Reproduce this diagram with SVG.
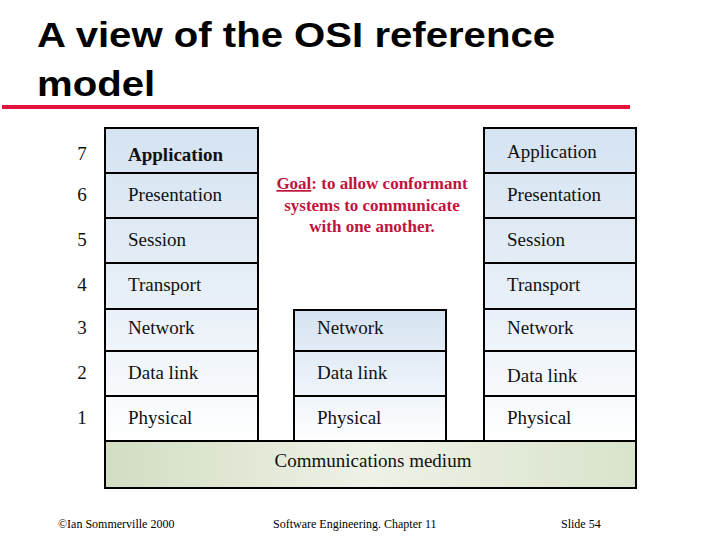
<svg xmlns="http://www.w3.org/2000/svg" width="720" height="540" viewBox="0 0 720 540">
<defs>
<linearGradient id="blueL" x1="0" y1="128" x2="0" y2="441" gradientUnits="userSpaceOnUse">
<stop offset="0" stop-color="#d5e3f1"/>
<stop offset="0.6" stop-color="#eaf1f8"/>
<stop offset="1" stop-color="#ffffff"/>
</linearGradient>
<linearGradient id="blueM" x1="0" y1="310" x2="0" y2="441" gradientUnits="userSpaceOnUse">
<stop offset="0" stop-color="#d5e3f1"/>
<stop offset="0.6" stop-color="#edf3f9"/>
<stop offset="1" stop-color="#ffffff"/>
</linearGradient>
<linearGradient id="green" x1="0" y1="0" x2="1" y2="0">
<stop offset="0" stop-color="#d2ddc2"/>
<stop offset="0.5" stop-color="#eef2e7"/>
<stop offset="1" stop-color="#d9e3cc"/>
</linearGradient>
<style>
.title{font-family:"Liberation Sans",Arial,sans-serif;font-weight:bold;font-size:36px;fill:#000}
.lbl{font-family:"Liberation Serif","Times New Roman",serif;font-size:19px;fill:#111}
.num{font-family:"Liberation Serif","Times New Roman",serif;font-size:19px;fill:#111;text-anchor:middle}
.box{stroke:#000;stroke-width:2}
.sep{stroke:#000;stroke-width:2}
.goal{font-family:"Liberation Serif","Times New Roman",serif;font-size:17px;font-weight:bold;fill:#c0143c;text-anchor:middle}
.foot{font-family:"Liberation Serif","Times New Roman",serif;font-size:12px;fill:#000}
</style>
</defs>
<rect width="720" height="540" fill="#fff"/>
<g id="title">
<g transform="translate(37,0) scale(1.115,1)">
<text class="title" x="0" y="47">A view of the OSI reference</text>
<text class="title" x="0" y="96">model</text>
</g>
<rect x="2" y="105" width="628" height="4" fill="#e4133b"/>
</g>
<g id="layer-numbers">
<text class="num" x="82" y="160">7</text>
<text class="num" x="82" y="201">6</text>
<text class="num" x="82" y="246">5</text>
<text class="num" x="82" y="291">4</text>
<text class="num" x="82" y="334">3</text>
<text class="num" x="82" y="379">2</text>
<text class="num" x="82" y="424">1</text>
</g>
<g id="left-stack">
<rect class="box" x="105" y="128" width="153" height="313" fill="url(#blueL)"/>
<line class="sep" x1="105" y1="173" x2="258" y2="173"/>
<line class="sep" x1="105" y1="218" x2="258" y2="218"/>
<line class="sep" x1="105" y1="263" x2="258" y2="263"/>
<line class="sep" x1="105" y1="309" x2="258" y2="309"/>
<line class="sep" x1="105" y1="351" x2="258" y2="351"/>
<line class="sep" x1="105" y1="396" x2="258" y2="396"/>
<text class="lbl" x="128" y="161" font-weight="bold" font-size="18">Application</text>
<text class="lbl" x="128" y="201">Presentation</text>
<text class="lbl" x="128" y="246">Session</text>
<text class="lbl" x="128" y="291">Transport</text>
<text class="lbl" x="128" y="334">Network</text>
<text class="lbl" x="128" y="379">Data link</text>
<text class="lbl" x="128" y="424">Physical</text>
</g>
<g id="middle-stack">
<rect class="box" x="294" y="310" width="152" height="131" fill="url(#blueM)"/>
<line class="sep" x1="294" y1="351" x2="446" y2="351"/>
<line class="sep" x1="294" y1="396" x2="446" y2="396"/>
<text class="lbl" x="317" y="334">Network</text>
<text class="lbl" x="317" y="379">Data link</text>
<text class="lbl" x="317" y="424">Physical</text>
</g>
<g id="right-stack">
<rect class="box" x="484" y="128" width="152" height="313" fill="url(#blueL)"/>
<line class="sep" x1="484" y1="173" x2="636" y2="173"/>
<line class="sep" x1="484" y1="218" x2="636" y2="218"/>
<line class="sep" x1="484" y1="263" x2="636" y2="263"/>
<line class="sep" x1="484" y1="309" x2="636" y2="309"/>
<line class="sep" x1="484" y1="351" x2="636" y2="351"/>
<line class="sep" x1="484" y1="396" x2="636" y2="396"/>
<text class="lbl" x="507" y="158">Application</text>
<text class="lbl" x="507" y="201">Presentation</text>
<text class="lbl" x="507" y="246">Session</text>
<text class="lbl" x="507" y="291">Transport</text>
<text class="lbl" x="507" y="334">Network</text>
<text class="lbl" x="507" y="382">Data link</text>
<text class="lbl" x="507" y="424">Physical</text>
</g>
<g id="medium">
<rect class="box" x="105" y="441" width="531" height="47" fill="url(#green)"/>
<text class="lbl" x="373" y="467" text-anchor="middle" font-size="21">Communications medium</text>
</g>
<g id="goal">
<text class="goal" x="372" y="189"><tspan text-decoration="underline">Goal</tspan>: to allow conformant</text>
<text class="goal" x="372" y="211">systems to communicate</text>
<text class="goal" x="372" y="232">with one another.</text>
</g>
<g id="footer">
<text class="foot" x="58" y="528">©Ian Sommerville 2000</text>
<text class="foot" x="273" y="528">Software Engineering. Chapter 11</text>
<text class="foot" x="561" y="528">Slide 54</text>
</g>
</svg>
